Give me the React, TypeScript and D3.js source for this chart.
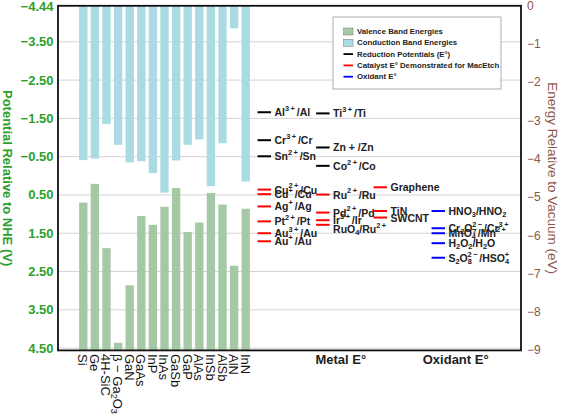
import React from "react";
import * as d3 from "d3";

// Semiconductors: band edges in eV relative to vacuum
const semis = ["Si", "Ge", "4H-SiC", "β − Ga_{2}O_{3}", "GaN", "GaAs", "InP", "InAs", "GaSb", "GaP", "AlAs", "InSb", "AlSb", "AlN", "InN"];
const cbEnergy = [-4.03, -3.99, -3.09, -3.63, -4.09, -4.06, -4.37, -4.88, -4.04, -3.63, -3.49, -4.71, -3.59, -0.59, -4.59];
const vbEnergy = [-5.14, -4.65, -6.33, -8.8, -7.3, -5.49, -5.72, -5.25, -4.76, -5.91, -5.66, -4.89, -5.19, -6.79, -5.3];

// Redox potentials in V vs NHE, grouped by column
const col1Labels = ["Al^{3+}/Al", "Cr^{3+}/Cr", "Sn^{2+}/Sn", "Cu^{2+}/Cu", "Cu^{+}/Cu", "Ag^{+}/Ag", "Pt^{2+}/Pt", "Au^{3+}/Au", "Au^{+}/Au"];
const col1Values = [-1.66, -0.93, -0.51, 0.36, 0.48, 0.8, 1.19, 1.5, 1.71];
const col1Kinds = ["red", "red", "red", "cat", "cat", "cat", "cat", "cat", "cat"];

const col2Labels = ["Ti^{3+}/Ti", "Zn + /Zn", "Co^{2+}/Co", "Ru^{2+}/Ru", "Pd^{2+}/Pd", "Ir^{3+}/Ir", "RuO_{4}/Ru^{2+}"];
const col2Values = [-1.63, -0.74, -0.26, 0.49, 0.96, 1.16, 1.28];
const col2Kinds = ["red", "red", "red", "cat", "cat", "cat", "cat"];

const col3Labels = ["Graphene", "TiN", "SWCNT"];
const col3Values = [0.3, 0.92, 1.09];
const col3Kinds = ["cat", "cat", "cat"];

const col4Labels = ["HNO_{3}/HNO_{2}", "Cr_{2}O_{7}^{2−}/Cr^{3+}", "MnO_{4}^{−}/Mn^{2+}", "H_{2}O_{2}/H_{2}O", "S_{2}O_{8}^{2−}/HSO_{4}^{+}"];
const col4Values = [0.92, 1.37, 1.5, 1.76, 2.14];
const col4Kinds = ["ox", "ox", "ox", "ox", "ox"];

const leftTicks = [-4.44, -3.5, -2.5, -1.5, -0.5, 0.5, 1.5, 2.5, 3.5, 4.5];
const rightTicks = [0, -1, -2, -3, -4, -5, -6, -7, -8, -9];

const legendItems = [
  { label: "Valence Band Energies", type: "patch", key: "vb" },
  { label: "Conduction Band Energies", type: "patch", key: "cb" },
  { label: "Reduction Potentials (E°)", type: "line", key: "red" },
  { label: "Catalyst E° Demonstrated for MacEtch", type: "line", key: "cat" },
  { label: "Oxidant E°", type: "line", key: "ox" },
];

// ---- layout / style ----
const W = 562, H = 415;
const L = 58, R = 521, T = 5.8, B = 350.4;
const FONT = "'Liberation Sans', Arial, sans-serif";
const colors: Record<string, string> = { vb: "#a5c9a5", cb: "#aadbe2", red: "#000000", cat: "#ff0000", ox: "#0000ff" };
const GREEN = "#2ca02c";
const BROWN = "#8c564b";

const x = d3.scaleLinear().domain([-2.18, 37.73]).range([L, R]);
const yN = d3.scaleLinear().domain([-4.44, 4.56]).range([T, B]);
const yV = d3.scaleLinear().domain([0, -9]).range([T, B]);

const colSlots = [15.6, 20.65, 25.6, 30.6];
const labelNudge: Record<string, number> = { "RuO_{4}/Ru^{2+}": 4.5 };

function fmtMinus(v: number, digits: number) {
  const s = v.toFixed(digits);
  return s.replace("-", "−");
}

function Rich({ s, fs }: { s: string; fs: number }) {
  const parts = s.split(/(_\{[^}]*\}|\^\{[^}]*\})/).filter((p) => p.length > 0);
  let cur = 0;
  let prevKind = "norm";
  let prevLen = 0;
  const out: React.ReactNode[] = [];
  parts.forEach((p, i) => {
    let kind = "norm";
    let text = p;
    if (p.startsWith("_{")) { kind = "sub"; text = p.slice(2, -1); }
    else if (p.startsWith("^{")) { kind = "sup"; text = p.slice(2, -1); }
    const target = kind === "sub" ? 0.28 * fs : kind === "sup" ? -0.4 * fs : 0;
    const dy = target - cur;
    cur = target;
    const size = kind === "norm" ? fs : fs * 0.7;
    let dx = 0;
    if (kind === "sup" && prevKind === "sub") dx = -prevLen * 0.58 * fs * 0.7;
    if (kind === "norm" && prevKind === "sup") dx = 0.18 * fs;
    if (kind === "sup") text = text.split("").join("\u2009");
    out.push(
      <tspan key={i} dy={dy} dx={dx || undefined} fontSize={size}>{text}</tspan>
    );
    prevKind = kind;
    prevLen = text.length;
  });
  return <>{out}</>;
}

export default function App() {
  const bw = (x(1) - x(0)) * 0.72;
  const cols = [
    { labels: col1Labels, values: col1Values, kinds: col1Kinds },
    { labels: col2Labels, values: col2Values, kinds: col2Kinds },
    { labels: col3Labels, values: col3Values, kinds: col3Kinds },
    { labels: col4Labels, values: col4Values, kinds: col4Kinds },
  ];
  const half = 0.58;
  return (
    <svg width={W} height={H} style={{ position: "absolute", left: 0, top: 0, background: "#fff" }} fontFamily={FONT}>
      <rect x={0} y={0} width={W} height={H} fill="#fff" />
      {/* gridlines */}
      {leftTicks.slice(1).map((t) => (
        <line key={t} x1={L} x2={R} y1={yN(t)} y2={yN(t)} stroke="#d4d4d4" strokeWidth={1} />
      ))}
      {/* bars */}
      {semis.map((s, i) => (
        <g key={s}>
          <rect x={x(i) - bw / 2} y={yV(0)} width={bw} height={yV(cbEnergy[i]) - yV(0)} fill={colors.cb} />
          <rect x={x(i) - bw / 2} y={yV(vbEnergy[i])} width={bw} height={yV(-9) - yV(vbEnergy[i])} fill={colors.vb} />
        </g>
      ))}
      {/* redox columns */}
      {cols.map((c, ci) => (
        <g key={ci}>
          {c.values.map((v, j) => (
            <g key={j}>
              <line x1={x(colSlots[ci] - half)} x2={x(colSlots[ci] + half)} y1={yN(v)} y2={yN(v)} stroke={colors[c.kinds[j]]} strokeWidth={2} />
              <text x={x(colSlots[ci] + half) + 3.5} y={yN(v) + (labelNudge[c.labels[j]] || 0)} fontSize={10.5} fontWeight="bold" fill="#222" dominantBaseline="central">
                <Rich s={c.labels[j]} fs={10.5} />
              </text>
            </g>
          ))}
        </g>
      ))}
      {/* frame */}
      <rect x={L} y={T} width={R - L} height={B - T} fill="none" stroke="#111" strokeWidth={1.8} />
      {/* left axis */}
      {leftTicks.map((t) => (
        <text key={t} x={53.5} y={Math.max(yN(t), 6.3)} textAnchor="end" dominantBaseline="central" fontSize={13} fontWeight="bold" fill={GREEN}>
          {fmtMinus(t, 2)}
        </text>
      ))}
      <text transform={`translate(7.5,${(T + B) / 2}) rotate(90)`} textAnchor="middle" dominantBaseline="central" fontSize={13} fontWeight="bold" fill={GREEN}>
        Potential Relative to NHE (V)
      </text>
      {/* right axis */}
      {rightTicks.map((t) => (
        <text key={t} x={527} y={Math.max(yV(t), 6.3)} dominantBaseline="central" fontSize={12} fill={BROWN}>
          {fmtMinus(t, 0)}
        </text>
      ))}
      <text transform={`translate(552,${(T + B) / 2}) rotate(90)`} textAnchor="middle" dominantBaseline="central" fontSize={13.5} fill={BROWN}>
        Energy Relative to Vacuum (eV)
      </text>
      {/* x labels */}
      {semis.map((s, i) => (
        <text key={s} transform={`translate(${x(i)},354) rotate(90)`} dominantBaseline="central" fontSize={13} fill="#111">
          <Rich s={s} fs={13} />
        </text>
      ))}
      <text x={x(22.2)} y={359} textAnchor="middle" dominantBaseline="central" fontSize={13} fontWeight="bold" fill="#222">Metal E°</text>
      <text x={x(32.1)} y={359} textAnchor="middle" dominantBaseline="central" fontSize={13} fontWeight="bold" fill="#222">Oxidant E°</text>
      {/* legend */}
      <g>
        <rect x={333} y={17} width={168} height={72} fill="#fff" stroke="#999" strokeWidth={0.8} />
        {legendItems.map((it, k) => {
          const cy = 31.5 + k * 11.3;
          return (
            <g key={it.key}>
              {it.type === "patch" ? (
                <rect x={343.5} y={cy - 3.5} width={9.5} height={7} fill={colors[it.key]} stroke="#777" strokeWidth={0.5} />
              ) : (
                <line x1={343.5} x2={353} y1={cy} y2={cy} stroke={colors[it.key]} strokeWidth={1.8} />
              )}
              <text x={357} y={cy} dominantBaseline="central" fontSize={7.8} fontWeight="bold" fill="#222">{it.label}</text>
            </g>
          );
        })}
      </g>
    </svg>
  );
}
